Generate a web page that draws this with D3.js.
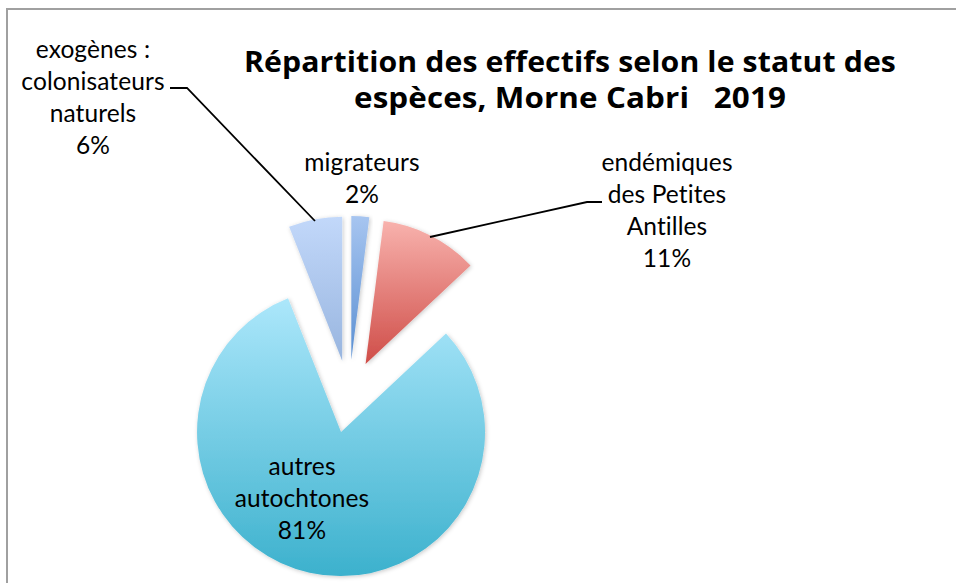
<!DOCTYPE html>
<html>
<head>
<meta charset="utf-8">
<script src="https://cdn.jsdelivr.net/npm/d3@7"></script>
<style>
  html, body { margin: 0; padding: 0; background: #fff; }
  svg { display: block; }
  text { font-variant-ligatures: none; font-feature-settings: "liga" 0, "clig" 0; letter-spacing: 0.1px; }
</style>
</head>
<body>
<svg id="chart" width="956" height="583"></svg>
<script>
// Species status shares, Morne Cabri 2019 (percent)
const categories = ["migrateurs", "endémiques des Petites Antilles", "autres autochtones", "exogènes : colonisateurs naturels"];
const values = [2, 11, 81, 6];
const labelLines = [
  ["migrateurs", "2%"],
  ["endémiques", "des Petites", "Antilles", "11%"],
  ["autres", "autochtones", "81%"],
  ["exogènes :", "colonisateurs", "naturels", "6%"]
];
const titleLines = ["Répartition des effectifs selon le statut des", "espèces, Morne Cabri   2019"];

// gradient stops per slice: [top, bottom]
const sliceColors = [
  ["#a7c5f0", "#5a8fd2"],
  ["#f8b2ad", "#cf4d48"],
  ["#ace7fb", "#3cb1cd"],
  ["#c2d8fa", "#98b5df"]
];

const svg = d3.select("#chart");
const defs = svg.append("defs");

// chart frame (open at right and bottom)
svg.append("rect")
  .attr("x", 7).attr("y", 9).attr("width", 1200).attr("height", 1200)
  .attr("fill", "#fff").attr("stroke", "#a0a0a0").attr("stroke-width", 2);

const shadow = defs.append("filter").attr("id", "shadow")
  .attr("x", "-20%").attr("y", "-20%").attr("width", "140%").attr("height", "140%");
shadow.append("feDropShadow").attr("dx", 1).attr("dy", 1)
  .attr("stdDeviation", 2).attr("flood-color", "#000").attr("flood-opacity", 0.22);

sliceColors.forEach((c, i) => {
  const g = defs.append("linearGradient").attr("id", "grad" + i)
    .attr("x1", 0).attr("y1", 0).attr("x2", 0).attr("y2", 1);
  g.append("stop").attr("offset", "0%").attr("stop-color", c[0]);
  g.append("stop").attr("offset", "100%").attr("stop-color", c[1]);
});

const cx = 349, cy = 396.5, radius = 144, explode = 36.5;

const pie = d3.pie().sort(null).value(d => d);
const arcs = pie(values);
const arc = d3.arc().innerRadius(0).outerRadius(radius);

const pieG = svg.append("g").attr("transform", `translate(${cx},${cy})`);
pieG.selectAll("path.slice")
  .data(arcs)
  .join("path")
  .attr("class", "slice")
  .attr("transform", d => {
    const a = (d.startAngle + d.endAngle) / 2;
    return `translate(${explode * Math.sin(a)},${-explode * Math.cos(a)})`;
  })
  .attr("d", arc)
  .attr("fill", (d, i) => `url(#grad${i})`)
  .attr("filter", "url(#shadow)");

// leader lines
const leaders = [
  null,
  [[430, 237], [587, 202], [602, 202]],
  null,
  [[170, 88], [187, 88], [315, 221]]
];
const line = d3.line();
svg.selectAll("path.leader")
  .data(leaders.filter(d => d))
  .join("path")
  .attr("class", "leader")
  .attr("d", line)
  .attr("fill", "none").attr("stroke", "#000").attr("stroke-width", 1.8);

// data labels
const labelPos = [
  { x: 362, y: 171 },
  { x: 667, y: 171 },
  { x: 302, y: 475 },
  { x: 93, y: 57.5 }
];
const lineStep = 32;
labelLines.forEach((lines, i) => {
  const t = svg.append("text")
    .attr("text-anchor", "middle")
    .attr("font-family", "Lato, 'Open Sans', sans-serif")
    .attr("font-size", 24.5)
    .attr("fill", "#000");
  lines.forEach((s, j) => {
    t.append("tspan")
      .attr("x", labelPos[i].x)
      .attr("y", labelPos[i].y + j * lineStep)
      .text(s);
  });
});

// title
const titleG = svg.append("g")
  .attr("font-family", "'Open Sans', Lato, sans-serif")
  .attr("font-weight", "bold")
  .attr("font-size", 28)
  .attr("fill", "#000")
  .attr("text-anchor", "middle");
const titleY = [72, 108];
const titleW = [652, 432];
titleLines.forEach((s, i) => {
  titleG.append("text")
    .attr("x", 570).attr("y", titleY[i])
    .attr("textLength", titleW[i])
    .attr("lengthAdjust", "spacingAndGlyphs")
    .style("white-space", "pre")
    .text(s);
});
</script>
</body>
</html>
